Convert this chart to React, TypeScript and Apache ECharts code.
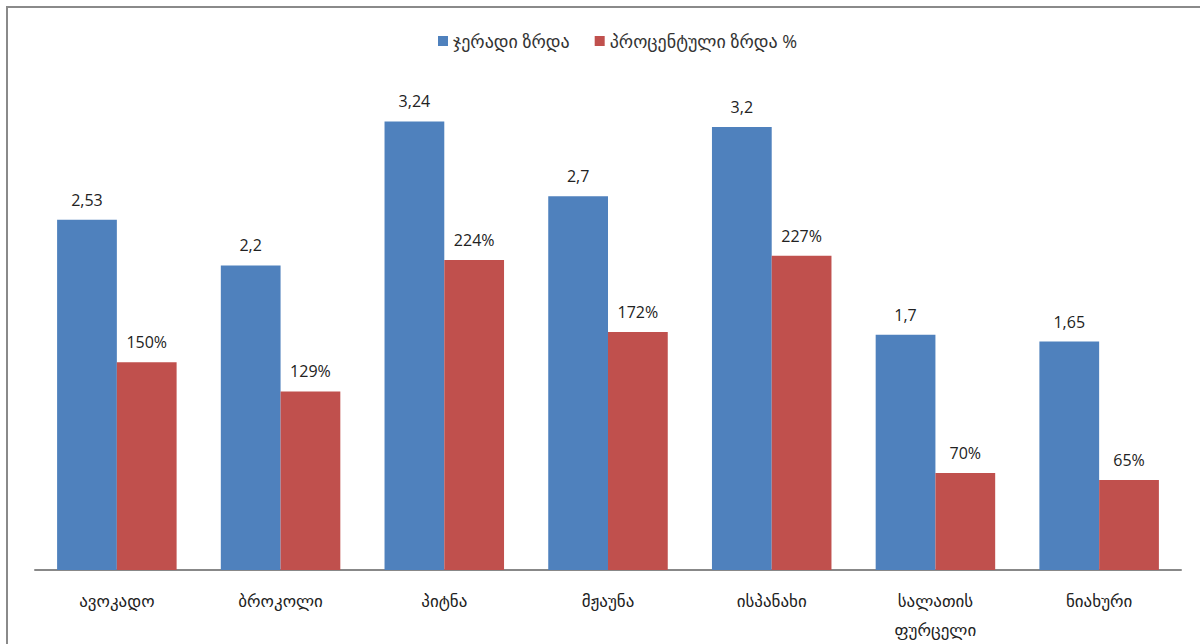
import React, { useEffect, useRef } from "react";
import * as echarts from "echarts";

const categories = ["ავოკადო", "ბროკოლი", "პიტნა", "მჟაუნა", "ისპანახი", "სალათის\nფურცელი", "ნიახური"];
const seriesNames = ["ჯერადი ზრდა", "პროცენტული ზრდა %"];
const foldGrowth = [2.53, 2.2, 3.24, 2.7, 3.2, 1.7, 1.65];
const percentGrowth = [150, 129, 224, 172, 227, 70, 65];

const FONT = "'Open Sans', 'DejaVu Sans', sans-serif";

export default function App() {
  const ref = useRef<HTMLDivElement>(null);
  useEffect(() => {
    if (!ref.current) return;
    const chart = echarts.init(ref.current, undefined, { renderer: "svg" });
    chart.setOption({
      animation: false,
      backgroundColor: "#ffffff",
      textStyle: { fontFamily: FONT },
      legend: {
        top: 27,
        left: 433,
        itemWidth: 10,
        itemHeight: 10,
        itemGap: 25,
        icon: "rect",
        textStyle: { fontSize: 18, color: "#333", fontFamily: FONT },
        data: seriesNames,
      },
      grid: { left: 35, right: 19, top: 85.5, bottom: 73, containLabel: false },
      xAxis: {
        type: "category",
        data: categories,
        axisLine: { lineStyle: { color: "#888", width: 2 } },
        axisTick: { show: false },
        axisLabel: { fontSize: 17, color: "#222", margin: 16, lineHeight: 29, fontFamily: FONT },
      },
      yAxis: {
        type: "value",
        min: 0,
        max: 3.5,
        show: false,
        splitLine: { show: false },
      },
      graphic: [
        {
          type: "rect",
          shape: { x: 7, y: 7, width: 1300, height: 700 },
          style: { fill: "none", stroke: "#8a8a8a", lineWidth: 2 },
          silent: true,
        },
      ],
      series: [
        {
          name: seriesNames[0],
          type: "bar",
          barGap: "0%",
          barCategoryGap: "27%",
          data: foldGrowth,
          itemStyle: { color: "#4F81BD" },
          label: {
            show: true,
            position: "top",
            distance: 12,
            fontSize: 16,
            color: "#222",
            fontFamily: FONT,
            formatter: (p: any) => String(p.value).replace(".", ","),
          },
        },
        {
          name: seriesNames[1],
          type: "bar",
          data: percentGrowth.map((v) => v / 100),
          itemStyle: { color: "#C0504D" },
          label: {
            show: true,
            position: "top",
            distance: 12,
            fontSize: 16,
            color: "#222",
            fontFamily: FONT,
            formatter: (p: any) => percentGrowth[p.dataIndex] + "%",
          },
        },
      ],
    });
    return () => chart.dispose();
  }, []);
  return (
    <div
      ref={ref}
      style={{ position: "fixed", left: 0, top: 0, width: 1200, height: 644 }}
    />
  );
}
